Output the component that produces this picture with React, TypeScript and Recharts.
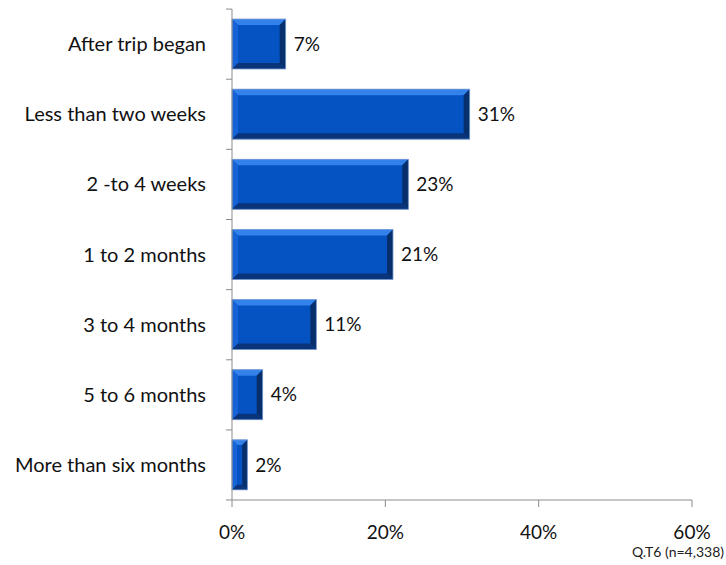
import { Bar, BarChart, LabelList, XAxis, YAxis } from "recharts";

const CATEGORIES = [
  "After trip began",
  "Less than two weeks",
  "2 -to 4 weeks",
  "1 to 2 months",
  "3 to 4 months",
  "5 to 6 months",
  "More than six months",
];
const SHARES = [7, 31, 23, 21, 11, 4, 2];
const X_TICKS = [0, 20, 40, 60];
const NOTE = "Q.T6 (n=4,338)";

const data = CATEGORIES.map((c, i) => ({ category: c, share: SHARES[i] }));

const FONT = "Lato, 'DejaVu Sans', sans-serif";
const AXIS_GRAY = "#8c8c8c";

function BevelBar(props: any) {
  const { x, y, width, height } = props;
  if (!width || width <= 0) return null;
  const b = Math.min(6, width / 3, height / 3);
  const x2 = x + width;
  const y2 = y + height;
  return (
    <g>
      <rect x={x} y={y} width={width} height={height} fill="#0552c2" />
      {/* top bevel */}
      <polygon
        points={`${x},${y} ${x2},${y} ${x2 - b},${y + b} ${x + b},${y + b}`}
        fill="#3381ea"
      />
      {/* left bevel */}
      <polygon
        points={`${x},${y} ${x + b},${y + b} ${x + b},${y2 - b} ${x},${y2}`}
        fill="#1563d6"
      />
      {/* right bevel */}
      <polygon
        points={`${x2},${y} ${x2},${y2} ${x2 - b},${y2 - b} ${x2 - b},${y + b}`}
        fill="#072f6b"
      />
      {/* bottom bevel */}
      <polygon
        points={`${x},${y2} ${x2},${y2} ${x2 - b},${y2 - b} ${x + b},${y2 - b}`}
        fill="#0a347a"
      />
      <rect
        x={x}
        y={y}
        width={width}
        height={height}
        fill="none"
        stroke="#7f9fd0"
        strokeWidth={0.8}
      />
    </g>
  );
}

function CategoryTick(props: any) {
  const { x, y, payload, index } = props;
  const half = 35;
  return (
    <g>
      <line x1={x - 6} x2={x} y1={y - half} y2={y - half} stroke={AXIS_GRAY} />
      {index === CATEGORIES.length - 1 && (
        <line x1={x - 6} x2={x} y1={y + half} y2={y + half} stroke={AXIS_GRAY} />
      )}
      <text
        x={x - 26}
        y={y}
        dy="0.35em"
        textAnchor="end"
        fontFamily={FONT}
        fontSize={20}
        fill="#111"
      >
        {payload.value}
      </text>
    </g>
  );
}

export default function App() {
  return (
    <div
      style={{
        position: "fixed",
        left: 0,
        top: 0,
        width: 726,
        height: 565,
        background: "#fff",
      }}
    >
      <BarChart
        width={726}
        height={565}
        data={data}
        layout="vertical"
        margin={{ top: 9, right: 34, left: 0, bottom: 35 }}
        barSize={50}
      >
        <XAxis
          type="number"
          domain={[0, 60]}
          ticks={X_TICKS}
          tickFormatter={(v) => `${v}%`}
          height={30}
          axisLine={{ stroke: AXIS_GRAY }}
          tickLine={{ stroke: AXIS_GRAY }}
          tickSize={7}
          tickMargin={19}
          tick={{ fill: "#111", fontSize: 19, fontFamily: FONT }}
        />
        <YAxis
          type="category"
          dataKey="category"
          width={232}
          axisLine={{ stroke: AXIS_GRAY }}
          tickLine={false}
          tickSize={0}
          tickMargin={0}
          tick={<CategoryTick />}
          interval={0}
        />
        <Bar
          dataKey="share"
          shape={<BevelBar />}
          isAnimationActive={false}
        >
          <LabelList
            dataKey="share"
            position="right"
            offset={8}
            formatter={(v: any) => `${v}%`}
            style={{ fill: "#111", fontSize: 19, fontFamily: FONT }}
          />
        </Bar>
      </BarChart>
      <div
        style={{
          position: "absolute",
          right: 2,
          top: 543,
          fontFamily: FONT,
          fontSize: 14,
          color: "#222",
        }}
      >
        {NOTE}
      </div>
    </div>
  );
}
